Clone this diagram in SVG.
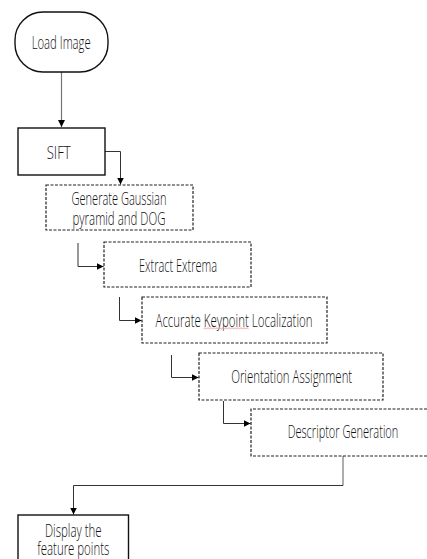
<svg xmlns="http://www.w3.org/2000/svg" width="427" height="559" viewBox="0 0 427 559">
<defs>
<marker id="arr" viewBox="0 0 10 10" refX="10" refY="5" markerWidth="7" markerHeight="7" markerUnits="userSpaceOnUse" orient="auto">
<path d="M0,0 L10,5 L0,10 z" fill="#000"/>
</marker>
<style>
.t{font-family:"Open Sans","Liberation Sans",Arial,sans-serif;font-weight:300;font-size:17.5px;fill:#111;text-anchor:middle}
.solid{fill:#fff;stroke:#111;stroke-width:1.4}
.dash{fill:#fff;stroke:#222;stroke-width:1.2;stroke-dasharray:3 1.5}
.c{fill:none;stroke:#333;stroke-width:1}
.cg{fill:none;stroke:#777;stroke-width:1.2}
</style>
</defs>
<rect width="427" height="559" fill="#fff"/>
<g id="connectors">
<path class="cg" d="M61.5,72 V127" marker-end="url(#arr)"/>
<path class="c" d="M105,151.5 H120.5 V184.5" marker-end="url(#arr)"/>
<path class="c" d="M78,243 V266.5 H103.5" marker-end="url(#arr)"/>
<path class="c" d="M119.5,297 V320.5 H141.5" marker-end="url(#arr)"/>
<path class="c" d="M171.5,355 V377.5 H198.5" marker-end="url(#arr)"/>
<path class="c" d="M223.5,401 V423.5 H250.5" marker-end="url(#arr)"/>
<path class="cg" d="M343,456 V485.5"/>
<path class="c" d="M343,485.5 H73.5 V514.5" marker-end="url(#arr)"/>
</g>
<g id="load-image">
<rect class="solid" x="15" y="12" width="93" height="60" rx="28" ry="28"/>
<text class="t" x="61.2" y="49" font-size="19" textLength="59" lengthAdjust="spacingAndGlyphs">Load Image</text>
</g>
<g id="sift">
<rect class="solid" x="18" y="128" width="87" height="47"/>
<text class="t" x="58.7" y="158.5" textLength="24" lengthAdjust="spacingAndGlyphs">SIFT</text>
</g>
<g id="generate">
<rect class="dash" x="46" y="185" width="147" height="45"/>
<text class="t"><tspan x="119" y="205" textLength="95" lengthAdjust="spacingAndGlyphs">Generate Gaussian</tspan><tspan x="119" y="225" textLength="93" lengthAdjust="spacingAndGlyphs">pyramid and DOG</tspan></text>
</g>
<g id="extract">
<rect class="dash" x="104" y="242" width="147" height="45"/>
<text class="t" x="178" y="271.5" textLength="78" lengthAdjust="spacingAndGlyphs">Extract Extrema</text>
</g>
<g id="accurate">
<rect class="dash" x="142" y="297" width="185" height="46"/>
<text class="t" x="234" y="326.5" textLength="157" lengthAdjust="spacingAndGlyphs">Accurate Keypoint Localization</text>
<path d="M203.5,328.8 l1.5,-1 l1.5,1 l1.5,-1 l1.5,1 l1.5,-1 l1.5,1 l1.5,-1 l1.5,1 l1.5,-1 l1.5,1 l1.5,-1 l1.5,1 l1.5,-1 l1.5,1 l1.5,-1 l1.5,1 l1.5,-1 l1.5,1 l1.5,-1 l1.5,1 l1.5,-1 l1.5,1 l1.5,-1 l1.5,1 l1.5,-1 l1.5,1 l1.5,-1 l1.5,1 l1.5,-1 l1.5,1" fill="none" stroke="#e8898c" stroke-width="0.8"/>
</g>
<g id="orientation">
<rect class="dash" x="199" y="353" width="184" height="47"/>
<text class="t" x="291.7" y="382.5" textLength="121" lengthAdjust="spacingAndGlyphs">Orientation Assignment</text>
</g>
<g id="descriptor">
<rect x="251" y="409" width="176" height="47" fill="#fff"/>
<path class="dash" d="M427,409 H251 V456 H427" fill="none"/>
<text class="t" x="343" y="437.5" textLength="110.7" lengthAdjust="spacingAndGlyphs">Descriptor Generation</text>
</g>
<g id="display">
<rect class="solid" x="18" y="515" width="110.5" height="60"/>
<text class="t"><tspan x="73.3" y="536.5" textLength="56.7" lengthAdjust="spacingAndGlyphs">Display the</tspan><tspan x="73.3" y="555" textLength="72" lengthAdjust="spacingAndGlyphs">feature points</tspan></text>
</g>
</svg>
